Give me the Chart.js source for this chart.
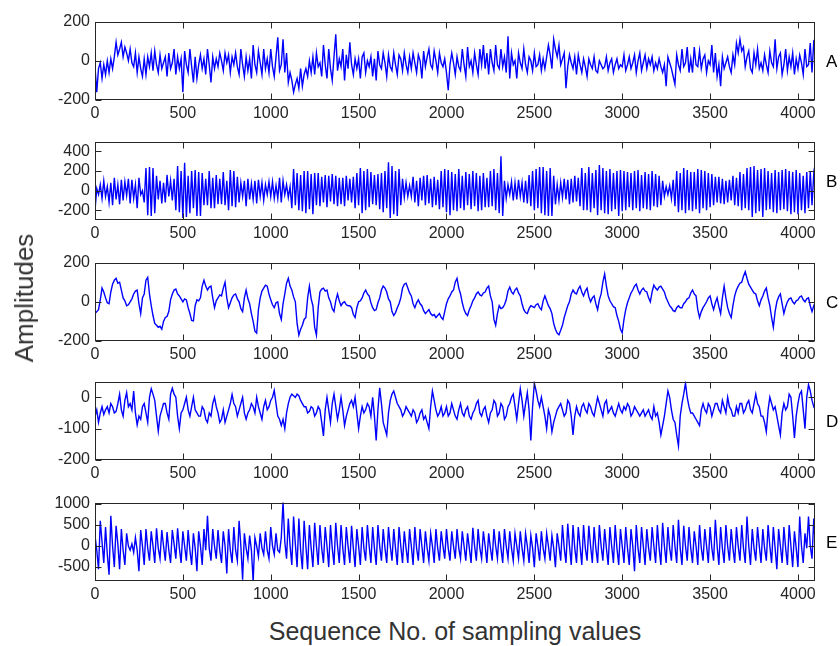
<!DOCTYPE html>
<html>
<head>
<meta charset="utf-8">
<script src="https://cdn.jsdelivr.net/npm/chart.js@4.4.1/dist/chart.umd.min.js"></script>
<style>
  body { margin: 0; background: #fff; }
  #wrap { position: relative; width: 840px; height: 646px; overflow: hidden; font-family: "Liberation Sans", Arial, sans-serif; }
  canvas { position: absolute; left: 0; }
  #ylab { position: absolute; left: 24px; top: 298px; font-size: 26px; color: #333; white-space: nowrap; line-height: 1;
          transform: translate(-50%, -50%) rotate(-90deg); }
  #xlab { position: absolute; left: 455px; top: 619px; font-size: 25px; color: #333; white-space: nowrap; line-height: 1;
          transform: translateX(-50%); }
</style>
</head>
<body>
<div id="wrap">
  <canvas id="pA" width="840" height="122"></canvas>
  <canvas id="pB" width="840" height="122"></canvas>
  <canvas id="pC" width="840" height="122"></canvas>
  <canvas id="pD" width="840" height="122"></canvas>
  <canvas id="pE" width="840" height="122"></canvas>
  <div id="ylab">Amplitudes</div>
  <div id="xlab">Sequence No. of sampling values</div>
</div>
<script>
// values, one every 10 sequence numbers
const STEP = 10;
const xTicks = [0, 500, 1000, 1500, 2000, 2500, 3000, 3500, 4000];

const seriesA = [
  -30, -160, -40, -10, -90, -20, -70, 0, -60, 10, -40, 20, 95, 30, 60, 95, 20, 70, 40, 0,
  60, -10, -30, 40, -60, 20, -40, -80, 10, -70, 20, -30, 40, -50, 50, -20, -60, 30, -40, -10,
  20, -80, 40, -40, -10, 60, -70, 20, -40, 10, -160, 50, -20, -60, 60, -30, -110, 20, -90, -20,
  30, -40, 10, -70, 60, -20, -110, 20, -40, 10, -30, 40, 0, -50, 40, -10, 30, -60, 20, -20,
  40, -30, -70, 60, -20, -80, 20, -50, 10, -90, 80, -20, -60, 50, -10, -70, 60, -40, 10, -60,
  60, -30, -80, 20, 120, -50, -20, 110, -60, 40, -110, -60, -100, -160, -120, -90, -140, -40, -130, -70,
  -40, -80, 0, -60, 20, -70, 40, -30, -10, -80, 80, -20, -90, 60, -40, -100, 20, 135, -50, 10,
  -30, 60, -100, 30, -40, 95, -20, -70, 10, -40, 10, -90, 20, 40, -60, 0, -30, 20, -80, 10,
  -100, 50, -20, -40, 40, -10, -80, 30, -30, -50, 40, -20, -70, 30, 10, -50, 40, -20, -60, 20,
  -40, 40, -10, -60, 30, 0, -90, 50, -30, 20, 60, -20, -40, 50, 0, -60, 40, -10, -30, 10,
  -60, -150, -20, 40, -10, -70, 20, -30, -50, 60, -20, -80, 70, -30, 0, -60, 40, -20, -70, 60,
  -20, 80, -40, 40, -70, 60, -10, -50, 80, -20, -40, 60, -30, 20, -60, 125, -90, 40, -20, 0,
  -90, 40, -10, -40, 60, -20, -60, 20, 0, -50, 40, -30, -20, 30, -50, 10, -40, 20, 80, 30,
  -40, 110, 60, 20, 80, -20, 10, 40, -140, -30, 30, -10, -40, 20, -70, 30, -20, -60, 10, -30,
  -80, 10, -20, -40, 20, -50, -60, 0, -20, -40, -30, 20, -50, -10, 10, -60, -20, 10, -40, -20,
  -30, 30, -50, -20, 20, -40, -10, 30, -60, 0, 40, -50, -10, 30, -40, 10, -20, 20, -50, -10,
  -40, 10, -30, -60, -20, -130, 20, -10, -40, -80, -120, 30, -20, -50, 60, -30, -10, 70, -60, 10,
  -60, 70, -20, -30, 50, -40, 10, 30, -60, 0, -20, 80, -60, 40, -80, -20, -130, 20, -40, -10,
  20, -30, -60, 30, -20, 90, 40, 110, 50, 70, -30, 20, 50, -40, -60, 40, -20, 60, -40, -10,
  -50, 30, -20, -60, 50, -10, -30, 110, -40, 20, 40, -70, -20, 60, -50, 20, -30, 40, -70, 10,
  -40, 30, -10, -70, 60, -30, -20, 90, -60, 100, 90
];
const seriesB = [
  -200, 20, -40, 60, -80, 100, -60, 40, -120, 80, -150, 130, -90, 60, -140, 110, -100, 90, -50, 120,
  -130, 110, -80, 60, -180, 130, -40, 0, -120, 230, -250, 240, -260, 230, -230, 150, -90, 100, -130, 80,
  -120, 160, -60, 100, -100, 120, -200, 250, -220, 200, -280, 285, -270, 150, -230, 200, -180, 210, -260, 190,
  -260, 180, -150, 120, -150, 200, -180, 130, -180, 160, -140, 120, -140, 190, -150, 100, -200, 210, -160, 200,
  -170, 140, -120, 80, -60, 100, -160, 120, -90, 70, -90, 100, -130, 110, -60, 80, -100, 60, -40, 90,
  -60, 90, -80, 50, -80, 130, -120, 100, -40, 60, -70, 40, -180, 220, -150, 180, -200, 160, -210, 200,
  -230, 200, -190, 170, -240, 180, -150, 180, -160, 140, -120, 160, -170, 150, -110, 170, -140, 150, -160, 130,
  -140, 130, -160, 150, -100, 120, -120, 140, -180, 180, -150, 230, -230, 200, -200, 220, -170, 190, -140, 160,
  -150, 170, -190, 180, -220, 200, -180, 290, -280, 250, -240, 200, -260, 220, -150, 120, -70, 80, -60, 50,
  -60, 140, -120, 100, -160, 130, -100, 150, -150, 160, -130, 120, -170, 140, -150, 110, -190, 200, -170, 220,
  -220, 210, -250, 190, -200, 170, -210, 220, -180, 150, -200, 190, -150, 170, -190, 200, -160, 180, -210, 150,
  -200, 180, -170, 130, -170, 200, -160, 220, -200, 180, -230, 350, -260, 100, -80, 60, -40, 90, -100, 80,
  -90, 110, -60, 80, -120, 100, -130, 160, -160, 200, -200, 220, -180, 240, -230, 240, -250, 200, -260, 230,
  -260, 150, -140, 60, -100, 80, -70, 120, -90, 110, -140, 120, -120, 150, -110, 130, -160, 230, -200, 180,
  -200, 240, -220, 180, -180, 210, -250, 260, -200, 230, -230, 200, -240, 220, -210, 180, -190, 200, -260, 210,
  -210, 200, -200, 190, -170, 180, -200, 200, -180, 210, -210, 160, -180, 190, -190, 170, -200, 200, -160, 170,
  -170, 150, -150, 100, -60, 40, -40, 50, -80, 110, -160, 200, -220, 180, -200, 230, -230, 210, -200, 190,
  -210, 190, -190, 220, -230, 210, -180, 200, -200, 180, -170, 170, -150, 140, -120, 140, -130, 120, -140, 100,
  -120, 110, -100, 150, -150, 130, -160, 190, -200, 170, -180, 230, -200, 240, -270, 250, -230, 210, -210, 220,
  -270, 230, -200, 200, -190, 180, -220, 210, -230, 190, -200, 210, -190, 220, -210, 200, -240, 190, -220, 210,
  -240, 180, -200, 150, -230, 190, -180, 200, -150, 170, 50
];
const seriesC = [
  -60, -50, -40, 10, 70, 50, 20, -5, -10, 50, 90, 110, 120, 95, 100, 60, 20, 5, -20, -15,
  0, 15, 40, 55, 60, -10, -60, 20, 40, 110, 125, 40, -20, -70, -110, -120, -130, -125, -140, -100,
  -80, -75, -50, 10, 40, 60, 65, 40, 30, 15, 0, 15, 10, -30, -60, -95, -97, -20, 10, 5,
  20, 80, 110, 80, 60, 75, 80, 20, -30, 5, 20, 35, 30, 70, 100, 20, -30, -5, 20, 35,
  40, 15, 0, -35, -50, 20, 60, 15, -10, -60, -100, -150, -160, -40, 20, 55, 70, 85, 80, 40,
  10, -15, -30, -5, 0, -60, -90, -10, 40, 95, 120, 80, 60, 25, 0, -110, -170, -140, -120, -90,
  -80, 20, 80, 15, -20, -130, -170, -30, 50, 65, 70, 55, 60, 20, 0, -35, -50, 5, 40, 5,
  -20, -5, 0, -15, -20, -20, -30, -65, -80, -30, 0, 5, 20, 45, 60, 40, 30, -5, -30, -45,
  -40, -5, 20, 60, 80, 70, 50, 15, 0, -50, -70, -55, -30, -10, 20, 70, 90, 95, 70, 45,
  30, -10, -30, -5, 10, -10, -20, -45, -60, -50, -40, -60, -70, -65, -80, -70, -60, -80, -90, -50,
  -10, 15, 30, 50, 60, 100, 120, 70, 40, -5, -40, -60, -70, -40, -20, 5, 20, 40, 50, 35,
  30, 45, 50, 70, 80, 30, 0, -90, -120, -60, -20, -35, -30, -15, 10, 55, 75, 50, 40, 60,
  70, 45, 30, -10, -40, -55, -60, -35, -20, -25, -30, -15, -10, -30, -40, 5, 30, 5, -20, -35,
  -60, -110, -140, -160, -168, -145, -120, -80, -50, -20, 0, 40, 60, 45, 40, 65, 80, 50, 30, 55,
  70, 25, 0, 20, 30, -10, -40, 10, 40, 100, 142, 80, 30, 5, -10, -25, -30, -70, -100, -140,
  -158, -90, -40, -5, 20, 45, 60, 80, 90, 60, 40, 60, 70, 55, 50, 20, 0, 50, 85, 70,
  60, 75, 80, 65, 50, 20, 0, -20, -30, -45, -50, -30, -20, -30, -30, -10, 0, 15, 20, 45,
  60, 40, 30, -40, -80, -50, -30, -15, 0, 20, 30, -10, -40, -5, 20, -25, -60, 20, 80, 20,
  -30, -60, -80, -20, 30, 60, 80, 95, 100, 130, 153, 120, 90, 75, 60, 45, 40, 5, -20, 10,
  30, 55, 70, 20, -20, -80, -130, -50, 0, 25, 40, -10, -60, -25, 0, 15, 20, 0, -10, 5,
  10, 25, 30, 10, 0, 15, 20, -20, -50, -20, 0
];
const seriesD = [
  -60, -40, -80, -50, -30, -55, -40, -30, -50, -20, -30, -50, -45, -20, 10, -40, -60, -10, 15, -30,
  -20, -40, 20, -50, -88, -60, -70, -30, -20, -50, -80, 0, 27, 10, -10, -60, -108, -60, -40, -20,
  -20, -50, -70, 10, 29, 10, 0, -60, -100, -50, -40, -20, 0, -40, -60, -30, 0, -40, -50, -60,
  -60, -30, -40, -70, -80, -50, -60, -20, 0, -30, -50, -80, -70, -40, -80, -60, -40, -20, 9, -20,
  -30, -60, -40, -20, 0, -50, -70, -50, -40, -20, -30, -50, 0, -30, -50, -70, -30, -10, -40, -30,
  -10, 0, 22, -20, -60, -70, -90, -70, -100, -50, -20, 0, 10, 5, 0, 10, 5, -10, -20, -30,
  -30, -50, -45, -30, -35, -60, -50, -30, -40, -80, -123, -40, 0, -40, -80, -20, 10, -30, -70, -40,
  0, -40, -90, -60, -40, -20, -10, -30, 0, -50, -100, -60, -30, -50, -40, -20, -30, -60, 0, -60,
  -138, -40, 30, -20, -80, -100, -120, -50, -10, 10, 20, 0, -20, -30, -40, -60, -50, -30, -40, -50,
  -60, -40, -50, -80, -70, -50, -40, -70, -60, -80, -100, -30, 20, -10, -40, -60, -50, -30, -60, -50,
  -30, -60, -50, -20, -40, -60, -70, -40, -20, -50, -60, -40, -30, -60, -70, -50, -40, -20, -10, -50,
  -60, -40, -30, -60, -80, -50, -40, -10, -20, -60, -50, -20, -30, -70, -60, -30, -20, 0, 10, -30,
  -70, -20, 27, -10, -60, -20, 15, -40, -138, -30, 45, 20, -10, -30, 0, -30, -60, -100, -40, -60,
  -110, -80, -60, -40, -30, -20, -40, -60, -50, -10, -20, -60, -120, -60, -30, -50, -60, -30, -20, -40,
  -50, -20, -30, -50, -60, -30, 0, -20, -40, -60, -20, -10, -50, -40, -30, -50, -60, -40, -20, -40,
  -50, -30, -40, -20, -30, -60, -50, -30, -40, -50, -60, -50, -40, -60, -50, -40, -60, -70, -30, -60,
  -50, -80, -120, -90, -60, -20, 20, 0, -40, -70, -80, -120, -155, -60, -20, 10, 45, 0, -30, -50,
  -50, -60, -70, -80, -90, -40, -20, -40, -50, -20, -30, -60, -40, -20, -20, -40, -50, -10, -30, -50,
  0, -30, -40, -60, -60, -30, -50, -20, -20, -50, -40, -20, -10, -40, -50, -20, 10, -20, -30, -60,
  -60, -80, -110, -40, 0, -20, -40, -30, -60, -90, -120, -50, -20, -40, -30, 10, 0, -60, -130, -60,
  -20, 10, 20, -40, -100, 0, 40, 20, -10, -30, -20
];
const seriesE = [
  250, -100, -550, 600, 100, -400, 450, -200, -680, 720, 0, -500, 480, 50, -550, 400, -100, -450, 300, 0,
  -100, 50, -150, 200, -100, -600, 380, 0, -450, 400, -50, -350, 350, 0, -400, 420, -50, -300, 380, 0,
  -350, 330, -100, -400, 380, 50, -300, 420, -50, -400, 350, 0, -350, 380, -100, -450, 300, -50, -600, 350,
  0, -450, 400, -100, 720, -50, -350, 400, 0, -300, 380, -100, -400, 350, 0, -650, 400, -100, -400, 450,
  -100, -350, 600, 0, -800, 300, -50, -300, 250, -100, -850, 200, 0, -250, 300, -50, -200, 350, -100, -300,
  450, 0, -200, 300, -100, -150, 200, 1050, 100, -300, 650, 0, -450, 700, 50, -500, 650, -100, -550, 600,
  0, -550, 500, -50, -500, 550, 0, -450, 500, -50, -400, 450, 0, -500, 500, -50, -450, 550, 0, -400,
  500, -50, -450, 450, 0, -400, 480, -50, -500, 400, 0, -450, 450, -50, -350, 500, 0, -400, 450, -50,
  -450, 500, 0, -350, 400, -50, -400, 450, 0, -350, 400, -50, -450, 450, 0, -400, 350, -50, -400, 400,
  0, -450, 450, -50, -350, 400, 0, -400, 350, -50, -350, 300, 0, -400, 400, -50, -350, 350, 0, -300,
  400, -50, -350, 350, 0, -300, 400, -50, -300, 350, 0, -350, 300, -50, -400, 430, 0, -350, 400, -50,
  -300, 350, 0, -400, 300, -50, -350, 400, 0, -300, 350, -50, -400, 400, 0, -300, 350, -50, -350, 300,
  0, -300, 350, -50, -350, 300, 0, -400, 250, -50, -500, 300, 0, -350, 350, -50, -300, 300, 0, -350,
  250, -50, -500, 300, 0, -350, 500, -50, -400, 530, 0, -450, 500, -50, -400, 450, 0, -450, 500, -50,
  -350, 480, 0, -400, 450, -50, -400, 500, 0, -350, 400, -50, -450, 450, 0, -400, 500, -50, -450, 400,
  0, -400, 450, -50, -450, 400, 0, -600, 500, -50, -400, 450, 0, -450, 400, -50, -350, 450, 0, -400,
  500, -50, -450, 550, 0, -400, 450, -50, -350, 500, 0, -400, 620, -50, -450, 480, 0, -350, 450, -50,
  -400, 350, 0, -450, 500, -50, -350, 400, 0, -400, 450, -50, -350, 620, 0, -450, 450, -50, -400, 500,
  0, -350, 400, -50, -400, 450, 0, -350, 500, -50, -400, 700, 0, -450, 400, -50, -350, 450, 0, -400,
  400, -50, -350, 500, 0, -400, 450, -50, -550, 400, 0, -400, 450, -50, -450, 500, 0, -500, 350, -50,
  -500, 700, 0, -400, 300, -50, 700, 0, -300, 650, -100
];

const ticksA = [-200, 0, 200];
const ticksB = [-200, 0, 200, 400];
const ticksC = [-200, 0, 200];
const ticksD = [-200, -100, 0];
const ticksE = [-500, 0, 500, 1000];

const FONT = '"Liberation Sans", Arial, sans-serif';
const AXIS = '#262626';

// MATLAB-like box with inward ticks on all four sides + panel letter
const boxPlugin = {
  id: 'box',
  afterDraw(chart, args, opts) {
    const { ctx, chartArea: a, scales } = chart;
    const L = Math.round(a.left) + 0.5, R = Math.round(a.right) - 0.5;
    const T = Math.round(a.top) + 0.5, B = Math.round(a.bottom) - 0.5;
    ctx.save();
    ctx.strokeStyle = AXIS;
    ctx.lineWidth = 1;
    ctx.strokeRect(L, T, R - L, B - T);
    ctx.beginPath();
    scales.x.ticks.forEach(t => {
      const px = Math.round(scales.x.getPixelForValue(t.value)) + 0.5;
      ctx.moveTo(px, B); ctx.lineTo(px, B - 6);
      ctx.moveTo(px, T); ctx.lineTo(px, T + 6);
    });
    scales.y.ticks.forEach(t => {
      const py = Math.round(scales.y.getPixelForValue(t.value)) + 0.5;
      ctx.moveTo(L, py); ctx.lineTo(L + 6, py);
      ctx.moveTo(R, py); ctx.lineTo(R - 6, py);
    });
    ctx.stroke();
    ctx.fillStyle = '#000';
    ctx.font = '17px ' + FONT;
    ctx.textAlign = 'left';
    ctx.textBaseline = 'middle';
    ctx.fillText(opts.letter, 826, (a.top + a.bottom) / 2 + 2);
    ctx.restore();
  }
};

function makePanel(id, plotTop, values, yMin, yMax, yTicks, letter) {
  const canvas = document.getElementById(id);
  canvas.style.top = (plotTop - 12) + 'px';
  return new Chart(canvas, {
    type: 'line',
    data: {
      datasets: [{
        data: values.map((v, i) => ({ x: i * STEP, y: v })),
        borderColor: '#0000ff',
        borderWidth: 1.4,
        pointRadius: 0,
        tension: 0
      }]
    },
    options: {
      responsive: false,
      animation: false,
      layout: { padding: { top: 12, right: 25, left: 0, bottom: 0 } },
      plugins: { legend: { display: false }, tooltip: { enabled: false }, box: { letter } },
      scales: {
        x: {
          type: 'linear', min: 0, max: 4097,
          afterBuildTicks: s => { s.ticks = xTicks.map(v => ({ value: v })); },
          afterFit: s => { s.height = 29; },
          grid: { display: false, drawTicks: false },
          border: { display: false },
          ticks: { padding: 4, color: AXIS, font: { family: FONT, size: 16 }, maxRotation: 0,
                   autoSkip: false, callback: v => String(v) }
        },
        y: {
          min: yMin, max: yMax,
          afterBuildTicks: s => { s.ticks = yTicks.map(v => ({ value: v })); },
          afterFit: s => { s.width = 95; },
          grid: { display: false, drawTicks: false },
          border: { display: false },
          ticks: { padding: 5, color: AXIS, font: { family: FONT, size: 16 },
                   autoSkip: false, callback: v => String(v) }
        }
      }
    },
    plugins: [boxPlugin]
  });
}

makePanel('pA', 19, seriesA, -200, 200, ticksA, 'A');
makePanel('pB', 139, seriesB, -300, 500, ticksB, 'B');
makePanel('pC', 260, seriesC, -200, 200, ticksC, 'C');
makePanel('pD', 379, seriesD, -200, 50, ticksD, 'D');
makePanel('pE', 500, seriesE, -830, 1030, ticksE, 'E');
</script>
</body>
</html>
